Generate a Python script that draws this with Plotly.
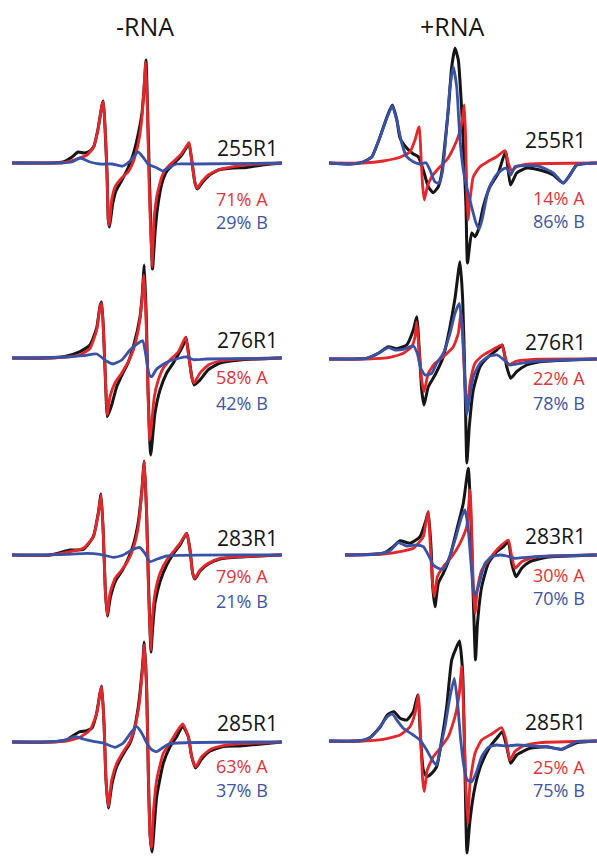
import plotly.graph_objects as go

W, H = 597, 856

# ---------------- data: field offset (a.u.) and derivative amplitude (a.u.) ----------------
# 255R1, -RNA
x255m_exp = [0, 38, 51, 60, 66, 72, 78, 82, 86, 90, 91.3, 93, 95, 96.3, 97.5, 100.5, 104, 110, 116, 121, 126, 130, 132.5, 134, 135.5, 137.5, 140.5, 143, 145.5, 150, 155, 161.5, 169.7, 174.7, 177, 179.7, 183, 185.5, 190, 196.3, 206.3, 221.3, 234.7, 250, 269.7]
y255m_exp = [0, 0, 1, 6, 11, 10, 12, 17, 34, 58, 62, 36, -10, -57, -64, -42, -28, -17, -5, 8, 28, 50, 80, 103, 56, -17, -106, -70, -45, -20, -8, -1, 8, 16, 20, 3, -20, -26, -20, -13, -7, -5, -4.5, -2, 0]
x255m_A = [0, 38, 51, 65, 75, 81, 86, 90, 91.3, 93, 95, 96.3, 97.3, 99.7, 103, 109.7, 116.3, 121.3, 126.3, 129.7, 132, 133.7, 135.3, 137, 140, 142, 144.7, 149.7, 154.7, 161.3, 169.7, 174.7, 177, 179.7, 183, 185.3, 189.7, 196.3, 206.3, 221.3, 241.3, 269.7]
y255m_A = [0, 0, 0.5, 4, 8, 15, 33, 58, 61, 36, -10, -57, -62, -37, -24, -15, -8.7, 1.3, 19.7, 43, 76, 101, 56, -17, -104, -57, -34, -14, -5, 1.3, 9.7, 17, 20.3, 3, -20, -25, -18.7, -12, -7, -3.7, -1.3, 0]
x255m_B = [0, 50, 60, 68, 78, 88, 100, 111, 118, 126, 131, 136, 145, 151, 158, 165, 180, 270]
y255m_B = [0, 0, 1, 5, 1, -1, -1, -3, 2, 11, 6, -1, -5, -8, -4, -1, -1, 0]

# 255R1, +RNA
x255p_exp = [0, 21, 34.3, 42.7, 51, 58.3, 63.3, 67.7, 71, 77.7, 84.3, 89.3, 94.3, 99.3, 104.3, 109.3, 112.7, 116, 119.3, 122.7, 126, 129.3, 132.7, 135, 137, 138.5, 142.7, 146, 149.3, 154.3, 161, 169.3, 176.5, 181.5, 187.7, 197.7, 211, 224.3, 234.3, 241, 247.7, 267.7]
y255p_exp = [0, -1, 1, 6, 26, 47, 58, 44, 25, 15, 9, 6.3, -7, -23.7, -29.7, -23.7, -10, 20, 53, 96, 114.7, 103, 53, 3, -43.7, -100, -70, -73.7, -67, -43.7, -23.7, -10, 11.3, -22, -10, -5, -7, -12, -20, -12, -2, 0]
x255p_A = [0, 34.3, 54.3, 71, 81, 86, 89.3, 90.3, 91.7, 93.7, 95.3, 98.3, 102.7, 111, 117.7, 124.3, 130.3, 133.7, 135.3, 136.7, 137.7, 138.9, 141, 144.3, 151, 159.3, 167.7, 176, 179.3, 182.7, 187.7, 201, 267.7]
y255p_A = [0, 0, 2, 5.7, 11.3, 23, 34.7, 36, 13, -23.7, -37, -23.7, -13.7, -3.7, 3, 14.7, 29.7, 46, 58, 23, -23.7, -57, -37, -13.7, -3.7, 1.7, 6.3, 12.3, 0, -8, -3.7, -1, 0]
x255p_B = [0, 21, 34.3, 42.7, 51, 58.3, 63.3, 67.7, 72.7, 77.7, 84.3, 91, 97, 101, 106, 110.3, 113.7, 117.7, 121, 124.3, 127.7, 131, 134.3, 137.7, 142.7, 147, 150.3, 153.7, 159.3, 166, 172.7, 177.7, 181.7, 186, 197.7, 211, 224.3, 234.3, 241, 247.7, 267.7]
y255p_B = [0, -1, 1, 6, 26, 46, 57, 43, 20, 6.3, 1.3, -1, 0.3, -7, -19, -20, -7, 36, 76, 96, 76, 23, -7, -24, -44, -60, -66, -54, -27, -13.7, -7, -5, -12, -3.7, -2.7, -3.7, -10, -20, -12, -2, 0]

# 276R1, -RNA
x276m_exp = [0, 38, 54.7, 68, 78, 84.7, 88, 89.7, 92, 94, 95.3, 99.7, 104.7, 110, 116, 121.3, 128, 130, 132.3, 134.3, 136, 138.7, 143, 148, 154.7, 161.3, 171.3, 174, 176.5, 180, 182.3, 188, 196.3, 208, 228, 269.7]
y276m_exp = [0, 0, 2, 6.3, 13, 30, 52, 56, 15, -36, -58.7, -47, -28.7, -17, -5, 11, 41, 60, 93, 40, -30, -97, -55, -32, -15, -5, 13, 20.7, 5, -20, -27, -22, -11.7, -5, -2, 0]
x276m_A = [0, 38, 54.7, 68, 78, 84.7, 88, 89.7, 92, 94, 95.3, 98, 103, 109.7, 116.3, 121.3, 126.3, 129.7, 132, 134, 135.7, 137.8, 139.7, 142.3, 146.3, 151.3, 158, 166.3, 173.5, 176.3, 179.7, 182, 188, 196.3, 208, 228, 269.7]
y276m_A = [0, 0, 1, 3, 9.7, 28, 51, 54.7, 14.7, -35, -57, -38.7, -25, -15, -3.7, 8, 28, 54.7, 83, 41, -25, -82, -65, -38.7, -22, -10, -2, 6.3, 20.7, 4.7, -18.7, -25, -15, -7, -3, -1, 0]
x276m_B = [0, 54.7, 71.3, 84.7, 94.7, 101.3, 109.7, 118, 126.3, 130.7, 134, 137.3, 139.7, 144.7, 154.7, 168, 174.7, 181.3, 194.7, 269.7]
y276m_B = [0, 1, 2.3, 4, -3.3, -6, -2, 8, 15, 17.3, 1.7, -17, -18.7, -11, -4.3, 0, 1, -1.7, -1, 0]

# 276R1, +RNA
x276p_exp = [0, 37.7, 49.3, 59.3, 67.7, 77.7, 84.3, 87.7, 90.3, 92.7, 95, 99.3, 106, 114.3, 121, 126, 131, 133.7, 136, 137.9, 140.3, 144.3, 151, 159.3, 167.7, 173.3, 177.7, 181.7, 187.7, 197.7, 211, 267.7]
y276p_exp = [0, 0.7, 5.7, 12.3, 10.3, 14, 29, 42.3, 9, -31, -46, -27.7, -16, 2.3, 32.3, 60.7, 97.3, 59, -24.3, -104, -67.7, -31, -7.7, 2.3, 9, 14, -7.7, -19.3, -12.7, -6, -2.7, 0]
x276p_A = [0, 37.7, 61, 74.3, 82.7, 86, 87.7, 90, 92.7, 95, 99.3, 106, 114.3, 124.3, 129.3, 132, 134.3, 136.3, 138.3, 141, 146, 154.3, 164.3, 172.7, 176, 179.3, 187.7, 204.3, 267.7]
y276p_A = [0, 0, 1.7, 5.7, 12.3, 22.3, 37, 9, -21, -32.7, -14.3, -4.3, 2.3, 12.3, 25.7, 47.3, 9, -31, -47.7, -24.3, -4.3, 4, 9.7, 14, 2.3, -6, -2, -0.3, 0]
x276p_B = [0, 37.7, 49.3, 59.3, 66, 74.3, 84.3, 88.3, 91.7, 96, 102.7, 107.7, 114.3, 121, 126, 130.3, 133.7, 136, 137.7, 140.3, 144.3, 151, 159.3, 168.3, 175, 181, 191, 211, 267.7]
y276p_B = [0, 0.7, 5.7, 11.3, 9, 9.7, 13, 5.7, -9.3, -16, -14.3, -4.3, 5.7, 25.7, 45.7, 55.7, 25.7, -24.3, -56, -41, -17.7, -4.3, 2.3, 4, -1, -6, -4.3, -2, 0]

# 283R1, -RNA
x283m_exp = [0, 38, 58, 71.3, 81.3, 86.3, 89, 91.3, 93.3, 95.3, 98.5, 103.5, 110, 116, 121.3, 126.3, 129.7, 132.3, 134.7, 136.5, 139, 140.5, 143, 148, 154.7, 161.3, 168, 174.7, 178, 180.7, 183, 188, 196.3, 208, 228, 269.7]
y283m_exp = [0, 0, 5, 5.5, 18.3, 42, 61, 21.7, -35, -61, -42, -26, -16, -4, 10, 33, 63, 94, 38.3, -28.3, -97, -75, -48, -26.7, -10, 1, 10, 21.7, 5, -18.3, -24, -16, -9, -4, -2, 0]
x283m_A = [0, 38, 58, 71.3, 81.3, 86.3, 89, 91.3, 93.3, 95.3, 98, 103, 109.7, 116.3, 121.3, 126.3, 129.7, 132.3, 134.7, 136.3, 138.7, 139.7, 143, 148, 154.7, 161.3, 168, 174.7, 178, 180.7, 183, 188, 196.3, 208, 228, 269.7]
y283m_A = [0, 0, 3.3, 6.7, 18.3, 41.7, 60, 21.7, -35, -60, -38.3, -23.3, -15, -5, 6.7, 28.3, 61.7, 93.3, 38.3, -28.3, -95, -71.7, -38.3, -18.3, -5, 3.3, 11.7, 21.7, 5, -18.3, -23.3, -15, -8.3, -3.3, -1.7, 0]
x283m_B = [0, 54.7, 74.7, 88, 101.3, 111.3, 119.7, 127.3, 133, 138, 144.7, 154.7, 269.7]
y283m_B = [0, 0.7, 1.7, 0.7, -2.3, 0, 5, 7.7, 1.7, -6.7, -4.3, -1, 0]

# 283R1, +RNA
x283p_exp = [16, 54.3, 64.3, 71, 81, 91, 97, 99.3, 102, 103.7, 106, 109.3, 114.3, 121, 127.7, 134.3, 139.3, 141.7, 143.7, 145.2, 146.5, 148.5, 152.7, 159.3, 167.7, 174.3, 179.3, 182.7, 187, 192.7, 201, 217.7, 267.7]
y283p_exp = [0, 1.7, 8.3, 14.3, 11.7, 18.3, 35, 43.3, 8.3, -31.7, -51.7, -28.3, -18.3, -1.7, 25, 51.7, 86.7, 41.7, -25, -72, -105, -68, -31.7, -8.3, 3.3, 8.3, 13.3, -8.3, -21.7, -13.3, -6.7, -2.3, 0]
x283p_A = [16, 54.3, 71, 84.3, 94.3, 96.5, 99.3, 101, 103.3, 105.3, 108.3, 114.3, 122.7, 131, 137.7, 141, 142.7, 144.3, 146, 148.3, 152.7, 161, 169.3, 179.3, 182.7, 186, 192.7, 204.3, 267.7]
y283p_A = [0, 1, 3.3, 6.7, 18.3, 30, 43.3, 15, -25, -41.7, -21.7, -11.7, -1.7, 11.7, 28.3, 65, 25, -31.7, -58.3, -35, -15, -3.3, 6.7, 15, -1.7, -13.3, -6.7, -2.3, 0]
x283p_B = [16, 47.7, 61, 69.3, 77.7, 87.7, 94.3, 99.3, 104.3, 109.3, 114.3, 119.3, 126, 132.7, 136, 139.3, 142, 144.3, 146, 149.3, 156, 162.7, 171, 177.7, 186, 197.7, 221, 267.7]
y283p_B = [0, 1, 4.3, 12.3, 9, 10, 8.3, 0, -10, -13.3, -14.3, -5, 15, 38.3, 45, 25, -8.3, -35, -40, -31.7, -8.3, -1.7, 0, -1, -3.3, -2.3, -1, 0]

# 285R1, -RNA
x285m_exp = [0, 38, 54.7, 62, 68, 74.7, 80, 84.7, 88, 89.7, 92, 94, 96.3, 100, 105, 111.3, 118, 121.3, 126.3, 130.7, 132.3, 134.7, 136.3, 138.2, 140, 144.7, 151.3, 158, 164.7, 170.7, 176.3, 179.7, 183.7, 189.7, 198, 211.3, 228, 245, 269.7]
y285m_exp = [0, 0, 2, 7, 10.3, 11.3, 14, 29, 49, 56, 18.7, -38, -66, -42, -24, -12, -1, 8.7, 35.3, 78, 100, 52, -31.3, -95, -110, -54.7, -21.3, -4.7, 5.3, 16, 5.3, -14.7, -26, -17, -9, -4.5, -4, -2.5, 0]
x285m_A = [0, 38, 54.7, 68, 78, 84.7, 88, 89.7, 92, 94, 96.3, 99.7, 104.7, 111.3, 118, 123, 127.3, 130.7, 132.3, 134.7, 136.3, 138, 139.5, 141.3, 144.7, 151.3, 158, 164.7, 170.7, 176.3, 179.7, 183.7, 189.7, 198, 211.3, 231.3, 269.7]
y285m_A = [0, 0, 1, 4.7, 12, 28.7, 48.7, 55.3, 18.7, -38, -64.7, -38, -21.3, -9.7, 0.7, 15.3, 38.7, 75.3, 97, 52, -31.3, -91.3, -106, -71.3, -38, -11.3, -1, 10.3, 18, 5.3, -14.7, -24.7, -14.7, -7.7, -3.7, -1.7, 0]
x285m_B = [0, 44.7, 54.7, 63, 71.3, 81.3, 91.3, 103, 111.3, 119.7, 124.7, 129.7, 134.7, 139.7, 144.7, 151.3, 158, 269.7]
y285m_B = [0, 0.7, 2.3, 5.7, 3, 0.7, -1, -5.3, -1, 10.3, 15.3, 9, -1, -7.7, -9.7, -5.3, -1.7, 0]

# 285R1, +RNA
x285p_exp = [0, 37.7, 51, 58.3, 65, 71, 77.7, 84.3, 88.7, 91.7, 94.3, 97.7, 102.7, 107.7, 112.7, 117.7, 122.7, 127, 130.5, 133.7, 136, 138, 141, 146, 152.7, 161, 167.7, 173.3, 177.7, 181.7, 187.7, 201, 217.7, 232.7, 247.7, 267.7]
y285p_exp = [0, 1, 13.7, 26, 29.3, 22.7, 21, 29.3, 46, 1, -29, -35.7, -32.3, -25.7, 1, 34.3, 81, 92.7, 100, 67.7, -31.3, -112, -79, -45.7, -22.3, -5.7, 2.7, 9.3, -5.7, -22.3, -14, -7.3, -5.7, -8.3, -1.7, 0]
x285p_A = [0, 31, 54.3, 71, 81, 86, 89.3, 91.7, 93.7, 95.3, 98.3, 104.3, 111, 119.3, 126, 130.3, 132.7, 135, 136.7, 138.7, 141, 146, 152.7, 162.7, 172.7, 177, 181, 186, 194.3, 211, 267.7]
y285p_A = [0, 0, 1.7, 6, 14.3, 27.7, 46, 1, -39, -50.7, -29, -15.7, -7.3, 4.3, 24.3, 47.7, 74.3, 17.7, -42.3, -82.3, -42.3, -12.3, 1, 7, 13.3, 1, -19, -10.3, -5, -1.7, 0]
x285p_B = [0, 31, 42.7, 51, 58.3, 63.3, 67.7, 74.3, 84.3, 91, 97.7, 104.3, 107.7, 111, 116, 121, 125.3, 128.3, 131.7, 135, 138.3, 142.7, 147, 152.7, 159.3, 167.7, 177.7, 187.7, 204.3, 221, 232.7, 241, 247.7, 267.7]
y285p_B = [0, 0.3, 4.3, 14.3, 24.3, 27, 21, 12.7, 6, 1, -9, -20.7, -24, -9, 14.3, 44.3, 62.7, 41, 1, -25.7, -39, -40.7, -32.3, -15.7, -6.3, -4, -5, -4, -5, -6.3, -8.3, -4, -0.7, 0]

site_labels = ["255R1", "276R1", "283R1", "285R1"]
pct_A_minus = ["71% A", "58% A", "79% A", "63% A"]
pct_B_minus = ["29% B", "42% B", "21% B", "37% B"]
pct_A_plus = ["14% A", "22% A", "30% A", "25% A"]
pct_B_plus = ["86% B", "78% B", "70% B", "75% B"]
column_titles = ["-RNA", "+RNA"]

# ---------------- styling / layout ----------------
C_EXP = "#151515"
C_A = "#e5262b"
C_B = "#3a52a6"
C_TA = "#e0353a"
C_TB = "#3d55a6"
FONT = "Open Sans"

curves = {
    (0, 0): (x255m_exp, y255m_exp, x255m_A, y255m_A, x255m_B, y255m_B),
    (0, 1): (x255p_exp, y255p_exp, x255p_A, y255p_A, x255p_B, y255p_B),
    (1, 0): (x276m_exp, y276m_exp, x276m_A, y276m_A, x276m_B, y276m_B),
    (1, 1): (x276p_exp, y276p_exp, x276p_A, y276p_A, x276p_B, y276p_B),
    (2, 0): (x283m_exp, y283m_exp, x283m_A, y283m_A, x283m_B, y283m_B),
    (2, 1): (x283p_exp, y283p_exp, x283p_A, y283p_A, x283p_B, y283p_B),
    (3, 0): (x285m_exp, y285m_exp, x285m_A, y285m_A, x285m_B, y285m_B),
    (3, 1): (x285p_exp, y285p_exp, x285p_A, y285p_A, x285p_B, y285p_B),
}

baselines = [163, 358, 555, 742]      # pixel row of each spectrum baseline
baselines_r = [163, 359, 555, 741]
col_x0 = [12, 329]                    # pixel column of field origin
name_dy = [[15, 23], [18, 17], [17, 19], [19, 19]]
a_dy = [[-36, -35], [-19, -19], [-21, -20], [-24, -26]]
b_dy = [[-59, -58], [-45, -44], [-46, -43], [-48, -49]]

fig = go.Figure()
layout = dict(width=W, height=H, autosize=False,
              margin=dict(l=0, r=0, t=0, b=0),
              paper_bgcolor="white", plot_bgcolor="rgba(0,0,0,0)",
              showlegend=False, annotations=[])

n = 0
for r in range(4):
    for c in range(2):
        n += 1
        xa = "x" if n == 1 else f"x{n}"
        ya = "y" if n == 1 else f"y{n}"
        xe, ye, xA, yA, xB, yB = curves[(r, c)]
        for xs, ys, col, wd in ((xe, ye, C_EXP, 3.0), (xA, yA, C_A, 2.8), (xB, yB, C_B, 2.8)):
            fig.add_trace(go.Scatter(x=xs, y=ys, mode="lines", xaxis=xa, yaxis=ya,
                                     line=dict(color=col, width=wd, shape="spline", smoothing=0.5),
                                     hoverinfo="skip"))
        B = baselines[r] if c == 0 else baselines_r[r]
        x0 = col_x0[c]
        layout["xaxis" if n == 1 else f"xaxis{n}"] = dict(
            domain=[0, 1], range=[-x0, W - x0], visible=False, fixedrange=True,
            anchor=ya)
        layout["yaxis" if n == 1 else f"yaxis{n}"] = dict(
            domain=[0, 1], range=[B - H, B], visible=False, fixedrange=True,
            anchor=xa)
        xr_name = 268 if c == 0 else 259
        xr_pct = 258
        pa = pct_A_minus[r] if c == 0 else pct_A_plus[r]
        pb = pct_B_minus[r] if c == 0 else pct_B_plus[r]
        for txt, xx, yy, col, sz in ((site_labels[r], xr_name, name_dy[r][c], C_EXP, 21),
                                     (pa, xr_pct, a_dy[r][c], C_TA, 18),
                                     (pb, xr_pct, b_dy[r][c], C_TB, 18)):
            layout["annotations"].append(dict(
                text=txt, x=xx, y=yy, xref=xa, yref=ya, xanchor="right", yanchor="middle",
                showarrow=False, font=dict(family=FONT, size=sz, color=col)))

for title, px in zip(column_titles, [145, 452]):
    layout["annotations"].append(dict(
        text=title, x=px / W, y=1 - 26 / H, xref="paper", yref="paper",
        xanchor="center", yanchor="middle", showarrow=False,
        font=dict(family=FONT, size=25, color=C_EXP)))

fig.update_layout(**layout)
fig.write_html("out.html", config={"displayModeBar": False},
               post_script="document.body.style.margin='0';")
